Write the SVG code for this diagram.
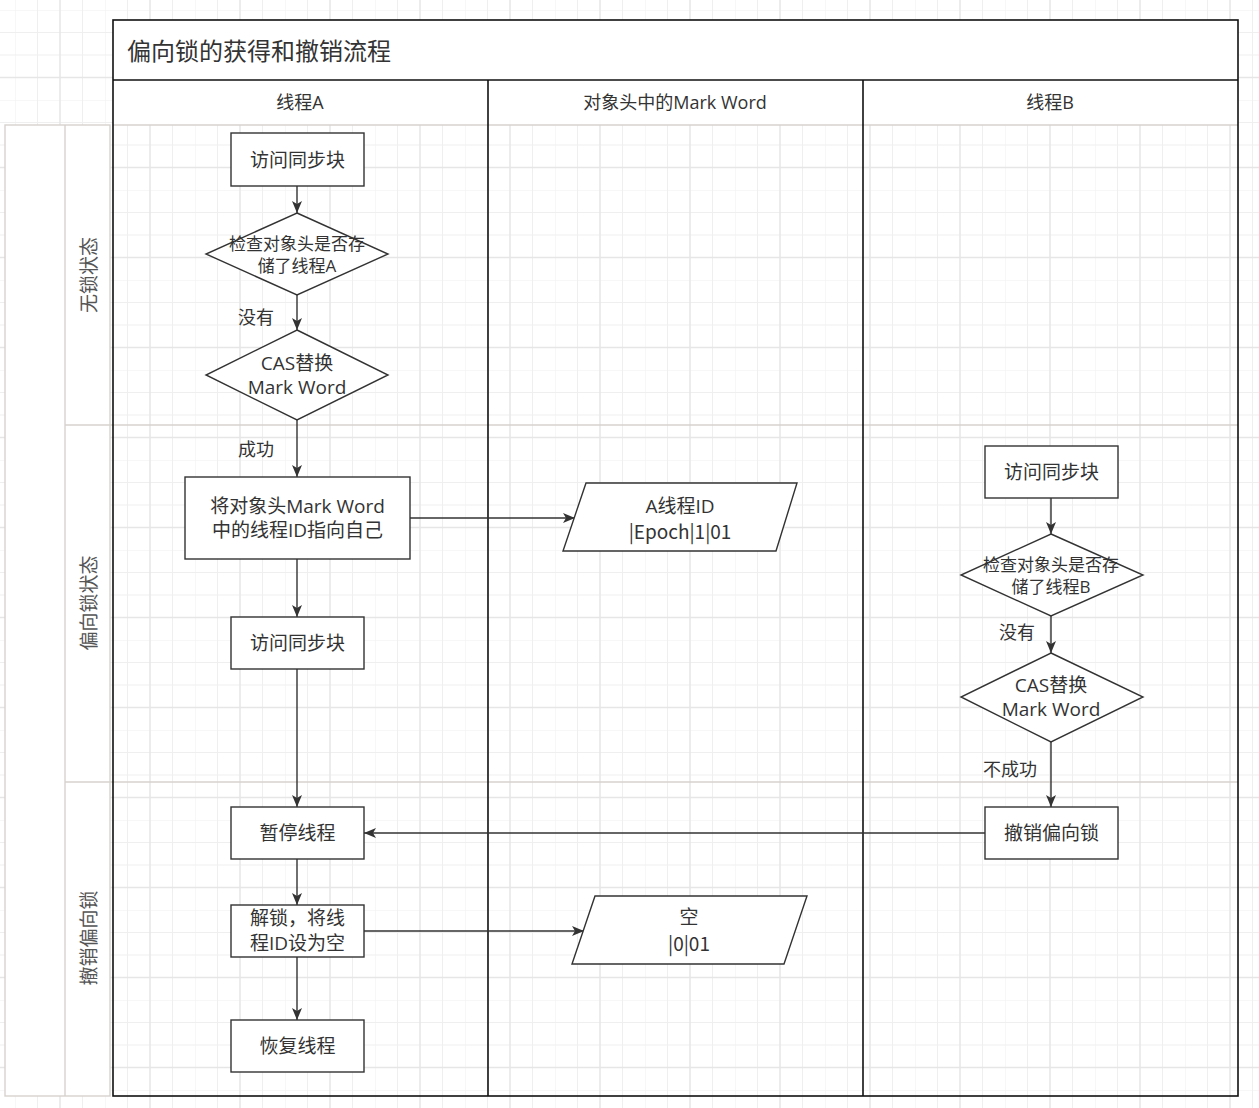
<svg xmlns="http://www.w3.org/2000/svg" width="1259" height="1108" viewBox="0 0 1259 1108">
<style>
.t{font-family:"Open Sans","Noto Sans CJK SC",sans-serif;fill:#333;text-anchor:middle;dominant-baseline:central}
.p{font-family:"Noto Sans CJK SC","Noto Sans",sans-serif}
.n{fill:#fff;stroke:#333;stroke-width:1.4}
.c{stroke:#333;stroke-width:1.4;fill:none;marker-end:url(#ah)}
.lg{stroke:#d6d2ce;stroke-width:1.4;fill:none}
.lgw{stroke:#d6d2ce;stroke-width:1.4;fill:#fff}
.bk{stroke:#111;stroke-width:1.6;fill:none}
</style>
<defs>
<pattern id="grid" x="15" y="10" width="90" height="90" patternUnits="userSpaceOnUse">
<path d="M0 0V90M22.5 0V90M67.5 0V90M0 0H90M0 22.5H90M0 45H90" stroke="#efefef" stroke-width="1"/>
<path d="M45 0V90M0 67.5H90" stroke="#e6e6e6" stroke-width="1.5"/>
</pattern>
<marker id="ah" viewBox="0 0 12 10" refX="12" refY="5" markerWidth="12" markerHeight="10" markerUnits="userSpaceOnUse" orient="auto">
<path d="M0 0L12 5L0 10L3 5Z" fill="#333"/>
</marker>
</defs>
<rect width="1259" height="1108" fill="#fff"/>
<rect width="1259" height="1108" fill="url(#grid)"/>

<g id="pool">
<rect x="113" y="20" width="1125" height="105" fill="#fff"/>
<rect x="5" y="125" width="105" height="971" class="lgw"/>
<line x1="65" y1="125" x2="65" y2="1096" class="lg"/>
<line x1="113" y1="125" x2="1238" y2="125" class="lg"/>
<line x1="65" y1="425" x2="1238" y2="425" class="lg"/>
<line x1="65" y1="782" x2="1238" y2="782" class="lg"/>
<rect x="113" y="20" width="1125" height="1076" class="bk"/>
<line x1="113" y1="80" x2="1238" y2="80" class="bk"/>
<line x1="488" y1="80" x2="488" y2="1096" class="bk"/>
<line x1="863" y1="80" x2="863" y2="1096" class="bk"/>
<text x="127" y="50" class="t" style="text-anchor:start;font-size:24px">偏向锁的获得和撤销流程</text>
<text x="300" y="102" class="t" style="font-size:18px">线程A</text>
<text x="675" y="102" class="t" style="font-size:18px">对象头中的Mark Word</text>
<text x="1050" y="102" class="t" style="font-size:18px">线程B</text>
<text transform="translate(89 275) rotate(-90)" class="t" style="font-size:19px;fill:#555">无锁状态</text>
<text transform="translate(89 603) rotate(-90)" class="t" style="font-size:19px;fill:#555">偏向锁状态</text>
<text transform="translate(89 938) rotate(-90)" class="t" style="font-size:19px;fill:#555">撤销偏向锁</text>
</g>

<g id="connectors">
<line x1="297" y1="186" x2="297" y2="213" class="c"/>
<line x1="297" y1="295" x2="297" y2="330" class="c"/>
<line x1="297" y1="420" x2="297" y2="477" class="c"/>
<line x1="297" y1="559" x2="297" y2="617" class="c"/>
<line x1="297" y1="669" x2="297" y2="807" class="c"/>
<line x1="297" y1="859" x2="297" y2="905" class="c"/>
<line x1="297" y1="957" x2="297" y2="1020" class="c"/>
<line x1="410" y1="518" x2="575" y2="518" class="c"/>
<line x1="364" y1="931" x2="584" y2="931" class="c"/>
<line x1="1051" y1="498" x2="1051" y2="534" class="c"/>
<line x1="1051" y1="616" x2="1051" y2="653" class="c"/>
<line x1="1051" y1="742" x2="1051" y2="807" class="c"/>
<line x1="985" y1="833" x2="364" y2="833" class="c"/>
<text x="256" y="317" class="t" style="font-size:18px">没有</text>
<text x="256" y="449" class="t" style="font-size:18px">成功</text>
<text x="1017" y="632" class="t" style="font-size:18px">没有</text>
<text x="1010" y="769" class="t" style="font-size:18px">不成功</text>
</g>

<g id="a1"><rect x="231" y="133" width="133" height="53" class="n"/><text x="297.5" y="160" class="t" style="font-size:19px">访问同步块</text></g>
<g id="a2"><path d="M297 213L388 254L297 295L206 254Z" class="n"/><text x="297" y="243" class="t" style="font-size:17px">检查对象头是否存</text><text x="297" y="265" class="t" style="font-size:17px">储了线程A</text></g>
<g id="a3"><path d="M297 330L388 375L297 420L206 375Z" class="n"/><text x="297" y="363" class="t" style="font-size:19px">CAS替换</text><text x="297" y="387" class="t" style="font-size:19px">Mark Word</text></g>
<g id="a4"><rect x="185" y="477" width="225" height="82" class="n"/><text x="297.5" y="506" class="t" style="font-size:19px">将对象头Mark Word</text><text x="297.5" y="530" class="t" style="font-size:19px">中的线程ID指向自己</text></g>
<g id="a5"><rect x="231" y="617" width="133" height="52" class="n"/><text x="297.5" y="643" class="t" style="font-size:19px">访问同步块</text></g>
<g id="a6"><rect x="231" y="807" width="133" height="52" class="n"/><text x="297.5" y="833" class="t" style="font-size:19px">暂停线程</text></g>
<g id="a7"><rect x="231" y="905" width="133" height="52" class="n"/><text x="297.5" y="918" class="t" style="font-size:19px">解锁，将线</text><text x="297.5" y="943" class="t" style="font-size:19px">程ID设为空</text></g>
<g id="a8"><rect x="231" y="1020" width="133" height="52" class="n"/><text x="297.5" y="1046" class="t" style="font-size:19px">恢复线程</text></g>

<g id="m1"><path d="M586 483L797 483L776 551L563 551Z" class="n"/><text x="680" y="506" class="t" style="font-size:19px">A线程ID</text><text x="680" y="530" class="t p" style="font-size:19px">|Epoch|1|01</text></g>
<g id="m2"><path d="M595 896L807 896L784 964L572 964Z" class="n"/><text x="689" y="917" class="t" style="font-size:19px">空</text><text x="689" y="942" class="t p" style="font-size:19px">|0|01</text></g>

<g id="b1"><rect x="985" y="446" width="133" height="52" class="n"/><text x="1051.5" y="472" class="t" style="font-size:19px">访问同步块</text></g>
<g id="b2"><path d="M1051 534L1143 575L1051 616L961 575Z" class="n"/><text x="1051" y="564" class="t" style="font-size:17px">检查对象头是否存</text><text x="1051" y="586" class="t" style="font-size:17px">储了线程B</text></g>
<g id="b3"><path d="M1051 653L1143 697L1051 742L961 697Z" class="n"/><text x="1051" y="685" class="t" style="font-size:19px">CAS替换</text><text x="1051" y="709" class="t" style="font-size:19px">Mark Word</text></g>
<g id="b4"><rect x="985" y="807" width="133" height="52" class="n"/><text x="1051.5" y="833" class="t" style="font-size:19px">撤销偏向锁</text></g>
</svg>
